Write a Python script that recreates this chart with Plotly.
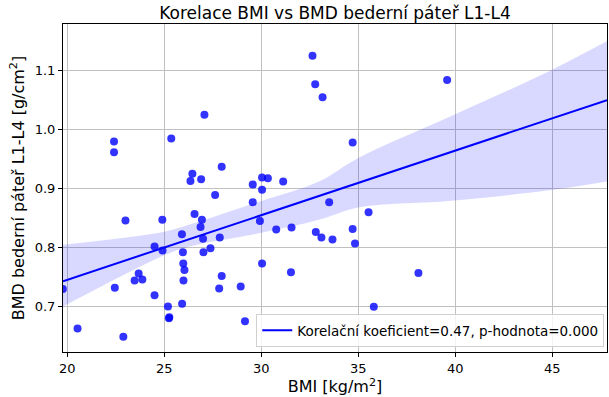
import plotly.graph_objects as go

# --- data ---
bmi = [22.41, 22.41, 25.36, 27.07, 27.96, 26.45, 26.35, 26.90, 29.56, 27.62,
       29.56, 26.56, 26.94, 26.87, 23.00, 24.90, 25.91, 27.00, 27.86, 29.93,
       24.50, 24.91, 25.96, 27.02, 27.38, 25.98, 26.04, 23.68, 23.47, 23.87,
       25.99, 27.96, 19.77, 22.45, 27.83, 28.94, 24.50, 25.19, 25.92, 25.26,
       25.24, 20.53, 22.89, 29.16, 32.64, 32.78, 33.16, 34.71, 30.04, 30.34,
       31.13, 30.04, 33.50, 35.53, 30.77, 31.56, 32.81, 33.10, 33.67, 34.71,
       34.83, 30.04, 31.53, 38.10, 35.80, 39.58]
bmd = [0.980, 0.9615, 0.985, 1.025, 0.937, 0.925, 0.913, 0.916, 0.907, 0.889,
       0.877, 0.857, 0.847, 0.835, 0.846, 0.847, 0.8226, 0.815, 0.817, 0.845,
       0.802, 0.795, 0.792, 0.792, 0.799, 0.773, 0.762, 0.756, 0.744, 0.746,
       0.744, 0.752, 0.730, 0.732, 0.7305, 0.734, 0.719, 0.700, 0.705, 0.682,
       0.680, 0.663, 0.649, 0.675, 1.125, 1.077, 1.055, 0.978, 0.9186, 0.9175,
       0.912, 0.898, 0.877, 0.860, 0.8305, 0.834, 0.8266, 0.817, 0.8136, 0.8317,
       0.807, 0.773, 0.758, 0.757, 0.6995, 1.084]

# regression line
line_bmi = [19.78, 47.82]
line_bmd = [0.743, 1.050]

# confidence band edges
band_x = [19.78, 25.0, 26.3, 30.0, 32.97, 35.0, 39.65, 44.84, 47.82]
band_upper = [0.805, 0.827, 0.839, 0.879, 0.912, 0.952, 1.021, 1.099, 1.150]
band_lower = [0.700, 0.787, 0.802, 0.825, 0.847, 0.868, 0.879, 0.897, 0.912]

x_range = [19.78, 47.82]
y_range = [0.623, 1.179]
x_ticks = [20, 25, 30, 35, 40, 45]
y_ticks = [0.7, 0.8, 0.9, 1.0, 1.1]

legend_label = "Korelační koeficient=0.47, p-hodnota=0.000"
title = "Korelace BMI vs BMD bederní páteř L1-L4"

FONT = "DejaVu Sans"

fig = go.Figure()
fig.add_trace(go.Scatter(x=band_x, y=band_upper, mode="lines", line=dict(width=0, shape="spline"),
                         showlegend=False, hoverinfo="skip"))
fig.add_trace(go.Scatter(x=band_x, y=band_lower, mode="lines", line=dict(width=0, shape="spline"),
                         fill="tonexty", fillcolor="rgba(0,0,255,0.15)",
                         showlegend=False, hoverinfo="skip"))
fig.add_trace(go.Scatter(x=bmi, y=bmd, mode="markers",
                         marker=dict(color="rgba(0,0,255,0.8)", size=8, line=dict(width=0)),
                         showlegend=False))
fig.add_trace(go.Scatter(x=line_bmi, y=line_bmd, mode="lines",
                         line=dict(color="#0000ff", width=2), name=legend_label))

axis_common = dict(showline=True, linecolor="black", linewidth=1, mirror=True,
                   showgrid=True, gridcolor="#c0c0c0", gridwidth=1,
                   ticks="outside", ticklen=4, tickcolor="black",
                   tickfont=dict(family=FONT, size=13, color="black"), zeroline=False)

fig.update_layout(
    width=609, height=397,
    margin=dict(l=63, r=2, t=24, b=45),
    plot_bgcolor="white", paper_bgcolor="white",
    font=dict(family=FONT, color="black"),
    title=dict(text=title, x=0.5, xanchor="center", xref="paper", y=0.966, yanchor="middle",
               font=dict(family=FONT, size=17, color="black")),
    xaxis=dict(range=x_range, tickvals=x_ticks,
               title=dict(text="BMI [kg/m<sup>2</sup>]", font=dict(family=FONT, size=16), standoff=6),
               **axis_common),
    yaxis=dict(range=y_range, tickvals=y_ticks, tickformat=".1f",
               title=dict(text="BMD bederní páteř L1-L4 [g/cm<sup>2</sup>]", font=dict(family=FONT, size=16), standoff=6),
               **axis_common),
    legend=dict(x=0.995, xanchor="right", y=0.015, yanchor="bottom",
                bgcolor="rgba(255,255,255,0.8)", bordercolor="#d0d0d0", borderwidth=1,
                tracegroupgap=0, itemwidth=30,
                font=dict(family=FONT, size=13.5, color="black")),
    showlegend=True,
)

fig.write_html("out.html")
